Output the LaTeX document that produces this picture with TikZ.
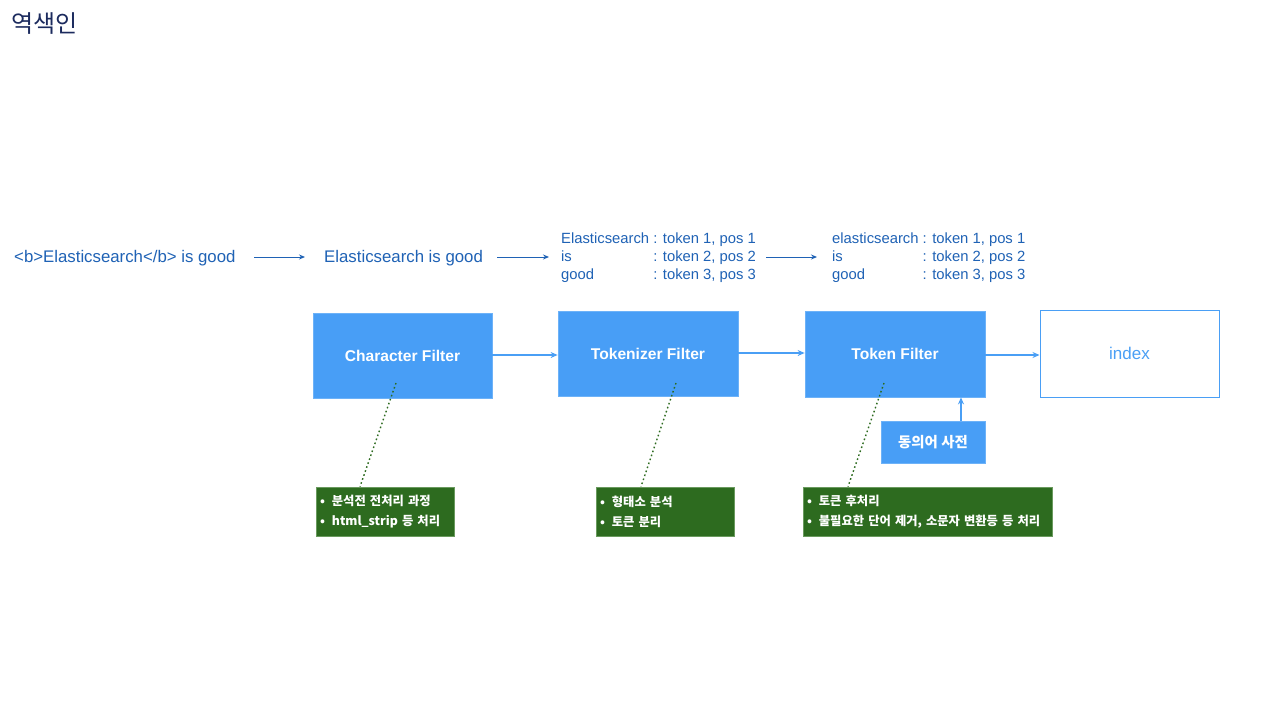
\documentclass[tikz,border=0pt]{standalone}
\usepackage{fontspec}
\setmainfont{Liberation Sans}
\newfontfamily\kr{Noto Sans CJK KR}
\usetikzlibrary{arrows.meta}
\definecolor{navy}{HTML}{1C2B5E}
\definecolor{txtblue}{HTML}{1F62B5}
\definecolor{boxblue}{HTML}{489EF6}
\definecolor{boxedge}{HTML}{6DB2F8}
\definecolor{lnblue}{HTML}{4A9FF5}
\definecolor{gfill}{HTML}{2D6B1F}
\definecolor{gedge}{HTML}{6A9A5E}
\tikzset{
  bluebox/.style={draw=boxedge, fill=boxblue, line width=0.8pt, inner sep=0pt,
    text=white, font=\fontsize{15.6}{18}\selectfont\bfseries},
  greenbox/.style={draw=gedge, fill=gfill, line width=0.8pt, inner xsep=4pt, inner ysep=0pt,
    text=white, align=left, font=\kr\fontsize{12.3}{20}\selectfont\bfseries},
  rowtext/.style={text=txtblue, inner sep=0pt},
  toparrow/.style={draw=txtblue, line width=0.9pt, -{Stealth[length=6pt,width=5pt]}},
  flowarrow/.style={draw=lnblue, line width=1.1pt, -{Stealth[length=7pt,width=6pt]}},
  note/.style={draw=gfill, line width=1.4pt, dash pattern=on 1.6pt off 2.6pt}
}
\begin{document}
\begin{tikzpicture}[x=1pt,y=-1pt]
\useasboundingbox (0,0) rectangle (1280,720);
\fill[white] (0,0) rectangle (1280,720);

\node[anchor=west, inner sep=0pt, text=navy, font=\kr\fontsize{24}{26}\selectfont] (title) at (11,24) {역색인};

% top row
\node[rowtext, anchor=west, font=\fontsize{16.8}{19}\selectfont] (t1) at (14,258) {<b>Elasticsearch</b> is good};
\node[rowtext, anchor=west, font=\fontsize{16.8}{19}\selectfont] (t2) at (324,258) {Elasticsearch is good};
\node[rowtext, anchor=west, align=left, font=\fontsize{14.8}{18}\selectfont] (t3) at (561,258)
  {\begin{tabular}{@{}l@{ }l@{}}Elasticsearch & : token 1, pos 1\\[-0.3pt] is & : token 2, pos 2\\[-0.3pt] good & : token 3, pos 3\end{tabular}};
\node[rowtext, anchor=west, align=left, font=\fontsize{14.8}{18}\selectfont] (t4) at (832,258)
  {\begin{tabular}{@{}l@{ }l@{}}elasticsearch & : token 1, pos 1\\[-0.3pt] is & : token 2, pos 2\\[-0.3pt] good & : token 3, pos 3\end{tabular}};

\coordinate (a1s) at (254,257);
\coordinate (a1e) at (305,257);
\coordinate (a2s) at (497,257);
\coordinate (a2e) at (549,257);
\coordinate (a3s) at (766,257);
\coordinate (a3e) at (817,257);
\draw[toparrow] (a1s) -- (a1e);
\draw[toparrow] (a2s) -- (a2e);
\draw[toparrow] (a3s) -- (a3e);

% boxes
\node[bluebox, minimum width=179pt, minimum height=85pt] (cf) at (402.5,355.5) {Character Filter};
\node[bluebox, minimum width=180pt, minimum height=85pt] (tz) at (648,353.5) {Tokenizer Filter};
\node[bluebox, minimum width=180pt, minimum height=86pt] (tf) at (895,354) {Token Filter};
\node[draw=lnblue, line width=1pt, fill=white, minimum width=179pt, minimum height=87pt, inner sep=0pt,
  text=lnblue, font=\fontsize{17}{19}\selectfont] (ix) at (1129.5,353.5) {index};
\node[bluebox, minimum width=104pt, minimum height=42pt, font=\kr\fontsize{14.4}{16}\selectfont\bfseries] (syn) at (933,442) {동의어 사전};

\draw[flowarrow] (cf.east |- 0,355) -- (tz.west |- 0,355);
\draw[flowarrow] (tz.east |- 0,353) -- (tf.west |- 0,353);
\draw[flowarrow] (tf.east |- 0,355) -- (ix.west |- 0,355);
\draw[flowarrow] (syn.north -| 961,0) -- (tf.south -| 961,0);

% notes
\node[greenbox, text width=130pt, minimum height=49pt] (g1) at (385,511.5)
  {•\hspace{7pt}분석전 전처리 과정\\ •\hspace{7pt}html\_strip 등 처리};
\node[greenbox, text width=130pt, minimum height=49pt] (g2) at (665,511.5)
  {•\hspace{7pt}형태소 분석\\ •\hspace{7pt}토큰 분리};
\node[greenbox, text width=241pt, minimum height=49pt] (g3) at (927.5,511.5)
  {•\hspace{7pt}토큰 후처리\\ •\hspace{7pt}불필요한 단어 제거, 소문자 변환등 등 처리};

\coordinate (n1) at (396,383);
\coordinate (n2) at (676,383);
\coordinate (n3) at (884,383);
\draw[note] (n1) -- ([xshift=-25pt]g1.north);
\draw[note] (n2) -- ([xshift=-24pt]g2.north);
\draw[note] (n3) -- ([xshift=-79.5pt]g3.north);
\end{tikzpicture}
\end{document}
